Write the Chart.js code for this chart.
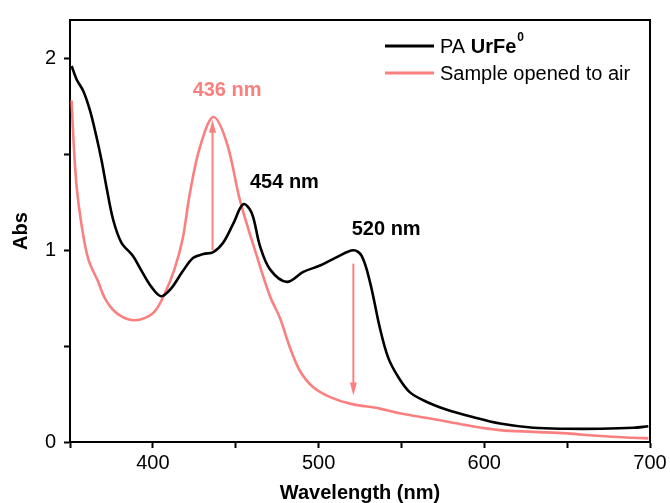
<!DOCTYPE html>
<html>
<head>
<meta charset="utf-8">
<script src="https://cdn.jsdelivr.net/npm/chart.js@4.4.1/dist/chart.umd.min.js"></script>
<style>
  html, body { margin: 0; padding: 0; background: #ffffff; }
  #wrap { width: 670px; height: 503px; }
</style>
</head>
<body>
<div id="wrap"><canvas id="c" width="670" height="503"></canvas></div>
<script>
// ---- data ----
const paWavelength = [351, 354, 358, 362, 366, 369, 372, 376, 381, 388, 393, 399, 405, 411, 418, 424.4, 430.5, 436.5, 442.5, 448.6, 454.6, 459.6, 464.7, 470.7, 480.8, 490.8, 500.9, 511, 521, 526, 531, 537, 542, 548, 555, 565, 577, 593, 609.5, 629.6, 649.7, 670, 690, 699];
const paAbs = [1.96, 1.89, 1.83, 1.73, 1.59, 1.47, 1.33, 1.16, 1.04, 0.97, 0.895, 0.81, 0.76, 0.80, 0.89, 0.96, 0.98, 0.99, 1.04, 1.14, 1.24, 1.195, 1.02, 0.90, 0.835, 0.887, 0.92, 0.964, 1.00, 0.97, 0.835, 0.594, 0.44, 0.34, 0.26, 0.21, 0.17, 0.13, 0.096, 0.074, 0.069, 0.069, 0.074, 0.082];

const airWavelength = [351, 352, 354, 357, 361, 367, 371, 377, 385, 393, 401, 407, 413, 418, 422.4, 428.5, 436.5, 444.6, 452.6, 462.7, 470.7, 476.7, 482.8, 488.8, 496.8, 507, 519, 537, 549, 569, 589, 609.5, 629.6, 649.7, 670, 690, 699];
const airAbs = [1.78, 1.59, 1.33, 1.13, 0.955, 0.835, 0.75, 0.68, 0.64, 0.64, 0.68, 0.77, 0.90, 1.06, 1.30, 1.54, 1.694, 1.56, 1.26, 0.97, 0.76, 0.646, 0.49, 0.37, 0.285, 0.234, 0.20, 0.174, 0.15, 0.12, 0.088, 0.062, 0.053, 0.045, 0.031, 0.022, 0.019];

const seriesLabels = ["PA UrFe0", "Sample opened to air"];
const xTickLabels = [400, 500, 600, 700];
const yTickLabels = [0, 1, 2];

// peak labels: [left wavelength, abs, text, colour key]
const peakLabels = [
  [424, 1.83, "436 nm", "air"],
  [458.6, 1.355, "454 nm", "pa"],
  [520, 1.108, "520 nm", "pa"]
];
// arrows: [wavelength, fromAbs, toAbs]
const arrows = [
  [436, 1.00, 1.68],
  [521, 0.93, 0.242]
];

const BLACK = "#000000";
const RED = "#fa8080";

const toPts = (xs, ys) => xs.map((x, i) => ({ x: x, y: ys[i] }));

const decorPlugin = {
  id: "decor",
  afterDatasetsDraw(chart) {
    const ctx = chart.ctx;
    const xs = chart.scales.x, ys = chart.scales.y;
    const a = chart.chartArea;
    ctx.save();
    // frame top & right
    ctx.strokeStyle = BLACK;
    ctx.lineWidth = 2;
    ctx.beginPath();
    ctx.moveTo(a.left, a.top);
    ctx.lineTo(a.right, a.top);
    ctx.lineTo(a.right, a.bottom);
    ctx.stroke();

    // arrows
    ctx.strokeStyle = RED;
    ctx.fillStyle = RED;
    ctx.lineWidth = 2;
    arrows.forEach(([w, f, t]) => {
      const px = xs.getPixelForValue(w);
      const y1 = ys.getPixelForValue(f);
      const y2 = ys.getPixelForValue(t);
      const dir = y2 < y1 ? -1 : 1;
      ctx.beginPath();
      ctx.moveTo(px, y1);
      ctx.lineTo(px, y2 - dir * 10);
      ctx.stroke();
      ctx.beginPath();
      ctx.moveTo(px, y2);
      ctx.lineTo(px - 3.5, y2 - dir * 13);
      ctx.lineTo(px + 3.5, y2 - dir * 13);
      ctx.closePath();
      ctx.fill();
    });

    // peak labels
    ctx.font = "bold 20px 'Liberation Sans', Arial, sans-serif";
    ctx.textAlign = "left";
    ctx.textBaseline = "middle";
    peakLabels.forEach(([w, v, txt, key]) => {
      ctx.fillStyle = key === "air" ? RED : BLACK;
      ctx.fillText(txt, xs.getPixelForValue(w), ys.getPixelForValue(v));
    });

    // legend
    const lx0 = 385, lx1 = 434, tx = 440;
    const rows = [[46, BLACK], [73, RED]];
    rows.forEach(([yy, col]) => {
      ctx.strokeStyle = col;
      ctx.lineWidth = 3;
      ctx.beginPath();
      ctx.moveTo(lx0, yy);
      ctx.lineTo(lx1, yy);
      ctx.stroke();
    });
    ctx.fillStyle = BLACK;
    ctx.textAlign = "left";
    ctx.textBaseline = "middle";
    ctx.font = "20px 'Liberation Sans', Arial, sans-serif";
    let x = tx;
    ctx.fillText("PA ", x, 47);
    x += ctx.measureText("PA ").width;
    ctx.font = "bold 20px 'Liberation Sans', Arial, sans-serif";
    ctx.fillText("UrFe", x, 47);
    x += ctx.measureText("UrFe").width;
    ctx.font = "bold 12px 'Liberation Sans', Arial, sans-serif";
    ctx.fillText("0", x + 1, 38);
    ctx.font = "20px 'Liberation Sans', Arial, sans-serif";
    ctx.fillText(seriesLabels[1], tx, 74);
    ctx.restore();
  }
};

new Chart(document.getElementById("c"), {
  type: "line",
  data: {
    datasets: [
      {
        label: seriesLabels[0],
        data: toPts(paWavelength, paAbs),
        borderColor: BLACK,
        borderWidth: 2.6,
        pointRadius: 0,
        tension: 0.35,
        fill: false
      },
      {
        label: seriesLabels[1],
        data: toPts(airWavelength, airAbs),
        borderColor: RED,
        borderWidth: 2.6,
        pointRadius: 0,
        tension: 0.35,
        fill: false
      }
    ]
  },
  options: {
    responsive: false,
    animation: false,
    layout: { padding: { top: 16, right: 20, left: 0, bottom: 0 } },
    plugins: { legend: { display: false }, tooltip: { enabled: false } },
    scales: {
      x: {
        type: "linear",
        min: 350,
        max: 700,
        afterFit: s => { s.height = 61; },
        ticks: {
          stepSize: 50,
          autoSkip: false,
          maxRotation: 0,
          padding: 3,
          color: BLACK,
          font: { size: 20, family: "'Liberation Sans', Arial, sans-serif" },
          callback: v => (xTickLabels.includes(v) ? String(v) : "")
        },
        grid: { drawOnChartArea: false, drawTicks: true, tickLength: 6, color: BLACK, tickWidth: 2 },
        border: { display: true, color: BLACK, width: 2 },
        title: {
          display: true,
          text: "Wavelength (nm)",
          color: BLACK,
          padding: { top: 0, bottom: 0 },
          font: { size: 20, weight: "bold", lineHeight: 1, family: "'Liberation Sans', Arial, sans-serif" }
        }
      },
      y: {
        type: "linear",
        min: 0,
        max: 2.2,
        afterFit: s => { s.width = 70; },
        afterBuildTicks: s => { s.ticks = s.ticks.filter(t => Math.abs(t.value * 2 - Math.round(t.value * 2)) < 1e-9); },
        ticks: {
          stepSize: 0.5,
          padding: 8,
          color: BLACK,
          font: { size: 20, family: "'Liberation Sans', Arial, sans-serif" },
          callback: v => (yTickLabels.includes(v) ? String(v) : "")
        },
        grid: { drawOnChartArea: false, drawTicks: true, tickLength: 6, color: BLACK, tickWidth: 2 },
        border: { display: true, color: BLACK, width: 2 },
        title: {
          display: true,
          text: "Abs",
          color: BLACK,
          padding: { top: 9, bottom: 0 },
          font: { size: 20, weight: "bold", family: "'Liberation Sans', Arial, sans-serif" }
        }
      }
    }
  },
  plugins: [decorPlugin]
});
</script>
</body>
</html>
